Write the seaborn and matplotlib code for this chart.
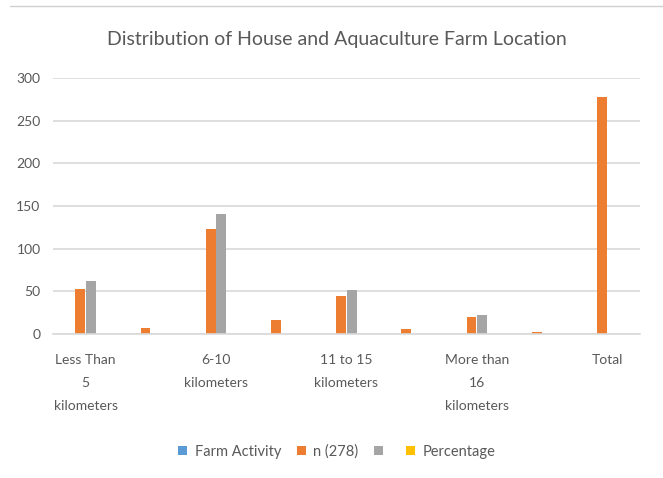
import pandas as pd
import matplotlib.pyplot as plt
from matplotlib.patches import Patch
from matplotlib.lines import Line2D
import seaborn as sns

# categories (blank slots in between, as in the source sheet)
categories = ['Less Than\n5\nkilometers', '', '6-10\nkilometers', '',
              '11 to 15\nkilometers', '', 'More than\n16\nkilometers', '', 'Total']
farm_activity = [0, 0, 0, 0, 0, 0, 0, 0, 0]
n_278 = [53, 7, 123, 17, 45, 6, 20, 3, 278]
unnamed = [62, 0, 141, 0, 52, 0, 22, 0, 0]
percentage = [0, 0, 0, 0, 0, 0, 0, 0, 0]
series_names = ['Farm Activity', 'n (278)', '', 'Percentage']
colors = ['#5B9BD5', '#ED7D31', '#A5A5A5', '#FFC000']

rows = []
for k, vals in enumerate([farm_activity, n_278, unnamed, percentage]):
    for i, v in enumerate(vals):
        rows.append({'pos': i, 'series': k, 'value': v})
df = pd.DataFrame(rows)

sns.set_style('white')
plt.rcParams['font.family'] = ['Lato', 'DejaVu Sans']
txt = '#595959'

fig = plt.figure(figsize=(6.63, 4.78), dpi=100)
ax = fig.add_axes([0.08, 0.301, 0.885, 0.536])

sns.barplot(data=df, x='pos', y='value', hue='series', hue_order=[0, 1, 2, 3],
            palette=colors, saturation=1, width=0.65, gap=0.08, errorbar=None,
            linewidth=0, ax=ax, legend=False)

ax.set_ylim(0, 300)
ax.set_xlim(-0.5, 8.5)
ax.set_yticks(range(0, 301, 50))
ax.yaxis.grid(True, color='#D9D9D9', linewidth=1.2)
ax.set_axisbelow(True)
for s in ['top', 'right', 'left']:
    ax.spines[s].set_visible(False)
ax.spines['bottom'].set_color('#D9D9D9')
ax.spines['bottom'].set_linewidth(1.2)
ax.tick_params(axis='both', length=0, colors=txt, labelsize=10)
ax.tick_params(axis='y', pad=9)
ax.tick_params(axis='x', pad=14)
ax.set_xticks(range(len(categories)))
ax.set_xticklabels(categories, linespacing=2.1, va='top')
ax.set_xlabel('')
ax.set_ylabel('')

fig.text(0.508, 0.917, 'Distribution of House and Aquaculture Farm Location',
         ha='center', va='center', fontsize=14, color=txt)

handles = [Patch(facecolor=c, edgecolor='none') for c in colors]
fig.legend(handles, series_names, loc='center', bbox_to_anchor=(0.508, 0.055),
           ncol=4, frameon=False, fontsize=10.5, labelcolor=txt,
           handlelength=0.6, handleheight=0.6, handletextpad=0.5, columnspacing=1.1)

# thin rule of the page at the top
fig.add_artist(Line2D([0.015, 1.0], [0.988, 0.988], color='#D0D0D0', linewidth=1))

fig.savefig('out.png', dpi=100, facecolor='white')
